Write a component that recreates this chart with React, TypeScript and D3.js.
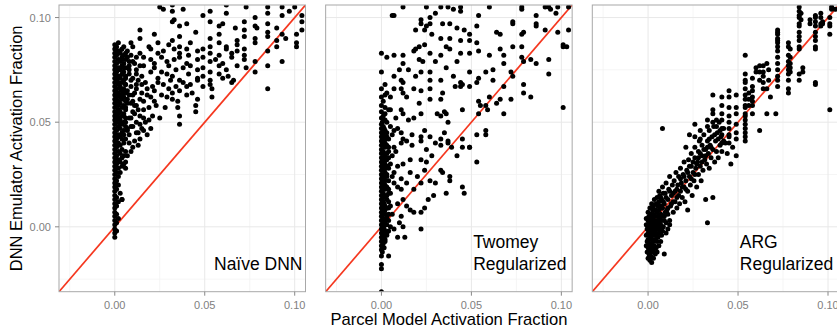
import React, { useEffect, useRef } from "react";
import * as d3 from "d3";

// all values in thousandths (0.05 -> 50)
const DOMAIN: [number, number] = [-31, 106];
const TICKS = [0, 50, 100];
const TICK_LABELS = ["0.00", "0.05", "0.10"];
const MINOR_TICKS = [-25, 25, 75];
const PANEL_LABELS = [["Naïve DNN"], ["Twomey", "Regularized"], ["ARG", "Regularized"]];
const X_TITLE = "Parcel Model Activation Fraction";
const Y_TITLE = "DNN Emulator Activation Fraction";

type Col = [number, number[]];
type Pt = [number, number];

// Naive DNN: column of points at x ~ 0
const naiveStripe: Col[] = [
  [0, [-5, -3, -1, 1, 3, 5, 7, 9, 11, 13, 15, 17, 19, 21, 23, 25, 27, 29, 31, 33, 35, 37, 39, 41, 43, 45, 47, 49, 51, 53, 55, 57, 59, 61, 63, 65, 67, 69, 71, 73, 75, 77, 79, 81, 83, 85, 87]],
  [1, [-2, 2, 6, 10, 14, 18, 22, 26, 30, 34, 38, 42, 46, 50, 54, 58, 62, 66, 70, 74, 78, 82, 86]],
  [2, [4, 12, 20, 24, 28, 32, 36, 40, 44, 48, 52, 56, 60, 64, 68, 72, 76, 80, 84, 88]],
  [3, [16, 26, 31, 35, 39, 43, 47, 51, 55, 59, 63, 67, 71, 75, 79, 83]],
  [4, [13, 29, 33, 37, 45, 49, 53, 57, 61, 65, 69, 73, 77, 81, 85]],
  [5, [30, 34, 40, 46, 50, 54, 58, 62, 66, 70, 74, 78, 82]],
  [6, [28, 36, 42, 48, 52, 56, 60, 64, 68, 72, 76, 80]],
];

const naiveCloud: Pt[] = [
  [25, 105], [27, 104], [32, 106], [32, 103], [38, 104], [62, 106], [73, 105], [85, 105], [93, 105], [100, 105],
  [33, 99], [49, 101], [53, 103], [62, 102], [78, 100], [85, 102], [93, 101], [97, 103], [104, 101],
  [32, 98], [36, 96], [40, 97], [53, 98], [58, 96], [60, 97], [67, 95], [72, 98], [78, 96], [85, 97], [90, 95], [104, 98],
  [14, 94], [45, 93], [72, 94], [79, 95], [85, 93], [104, 94], [101, 92],
  [22, 92], [14, 90], [32, 89], [36, 91], [53, 90], [58, 92], [68, 89], [72, 91], [78, 90], [85, 91], [90, 89], [93, 92], [95, 90], [101, 88],
  [9, 88], [19, 86], [24, 88], [30, 87], [36, 86], [40, 85], [42, 88], [53, 86], [58, 88], [62, 86], [68, 87], [72, 85], [78, 88], [90, 86], [101, 86],
  [3, 84], [14, 83], [20, 85], [24, 83], [27, 84], [33, 85], [36, 83], [41, 82], [46, 84], [49, 85], [53, 83], [58, 82], [62, 85], [65, 83], [68, 84], [72, 82], [85, 84],
  [4, 80], [7, 81], [10, 79], [16, 81], [20, 80], [22, 78], [26, 81], [29, 79], [33, 80], [36, 81], [40, 78], [46, 80], [49, 81], [53, 79], [56, 80], [60, 78], [65, 81], [72, 80], [78, 79], [93, 79],
  [5, 76], [8, 77], [12, 75], [16, 77], [22, 76], [26, 74], [30, 77], [34, 75], [38, 76], [42, 77], [46, 75], [49, 76], [53, 74], [58, 77], [62, 75], [68, 77], [73, 76], [78, 74], [85, 77],
  [3, 72], [8, 73], [10, 71], [15, 72], [20, 74], [24, 71], [29, 73], [32, 72], [36, 70], [41, 73], [46, 71], [49, 72], [53, 70], [58, 73], [60, 71], [63, 72], [66, 70],
  [2, 69], [6, 68], [9, 70], [12, 68], [17, 69], [21, 67], [24, 69], [27, 68], [31, 70], [34, 67], [38, 69], [42, 68], [46, 70], [49, 67], [53, 68], [65, 69],
  [3, 66], [7, 65], [12, 66], [15, 64], [18, 66], [22, 65], [26, 63], [30, 66], [32, 64], [36, 65], [40, 67], [43, 64], [54, 66], [85, 66],
  [3, 62], [7, 61], [10, 63], [14, 61], [20, 62], [22, 60], [29, 62], [32, 61], [35, 60], [40, 63], [46, 61], [54, 62],
  [2, 58], [6, 57], [9, 59], [12, 58], [16, 56], [23, 58], [28, 57], [35, 57], [45, 58],
  [2, 54], [5, 53], [9, 52], [11, 54], [14, 53], [19, 51], [21, 53], [25, 52], [36, 53], [45, 55],
  [3, 49], [7, 47], [10, 48], [14, 49], [20, 47], [36, 49],
  [18, 44], [10, 38], [14, 42], [12, 45], [8, 40], [16, 46], [11, 41], [13, 39], [9, 36], [7, 34], [6, 31], [8, 44], [15, 47],
  [6, 50], [8, 52], [10, 55], [12, 50], [7, 46], [9, 48], [13, 56], [5, 44], [11, 58], [4, 42], [4, 13],
  [7, 84], [8, 79], [9, 82], [5, 86], [6, 83], [10, 86], [8, 75], [11, 78], [12, 81], [6, 71], [9, 67], [11, 64], [7, 59],
  [13, 70], [10, 60], [5, 64], [12, 73], [14, 77], [8, 63], [16, 60], [18, 63], [15, 68], [19, 57], [17, 50], [13, 45], [16, 52],
];

// Twomey regularized
const twomeyStripe: Col[] = [
  [0, [-31, -20, -18, -14, -11, -9, -7, -5, -3, -1, 1, 3, 5, 7, 9, 11, 13, 15, 17, 19, 21, 23, 25, 27, 29, 31, 33, 35, 37, 39, 41, 43, 45, 47, 49, 52, 55, 58, 62, 66, 83]],
  [0.5, [-12, -9, -6, -3, 0, 3, 6, 9, 12, 15, 18, 21, 24, 27, 30, 33, 36, 39, 42, 45, 50]],
  [1, [-8, -4, 0, 4, 8, 12, 16, 20, 24, 28, 32, 36, 40, 44, 48, 53, 60]],
  [1.5, [-10, -5, -1, 3, 7, 11, 15, 19, 23, 27, 31, 35, 39, 43, 47]],
  [2, [-6, -2, 2, 6, 10, 14, 18, 22, 26, 30, 34, 38, 42, 46, 51, 57, 63]],
  [3, [-4, 1, 5, 9, 15, 19, 25, 29, 35, 39, 45]],
  [4, [-2, 6, 12, 16, 22, 28, 33, 38, 42]],
];

const twomeyCloud: Pt[] = [
  [12, 105], [25, 105], [33, 105], [37, 105], [44, 105], [60, 105], [78, 105], [91, 105], [93, 105], [98, 105], [104, 105],
  [40, 104], [44, 103], [30, 102], [27, 100], [6, 101], [7, 101], [54, 101], [78, 104], [86, 101], [94, 104], [97, 102],
  [22, 99], [22, 97], [27, 97], [19, 94], [25, 96], [24, 94], [34, 97], [38, 97], [42, 95], [46, 94], [53, 96], [64, 93], [66, 92],
  [73, 98], [73, 97], [79, 93], [86, 97], [86, 96], [91, 94], [98, 93], [104, 94],
  [28, 92], [24, 87], [19, 85], [21, 86], [38, 90], [44, 89], [49, 92], [49, 89], [33, 90], [53, 88], [73, 86], [78, 92], [101, 87], [103, 86], [101, 86],
  [3, 81], [7, 82], [12, 82], [12, 78], [18, 84], [21, 80], [23, 79], [27, 83], [30, 79], [33, 82], [36, 86], [38, 85], [42, 79], [44, 83], [49, 83],
  [54, 84], [60, 82], [66, 85], [68, 82], [68, 78], [78, 86], [78, 81], [79, 79], [83, 80], [86, 78], [93, 80],
  [0, 74], [2, 68], [7, 72], [10, 75], [11, 70], [12, 69], [15, 75], [19, 72], [22, 74], [27, 74], [27, 70], [33, 70], [36, 76], [40, 72], [44, 69],
  [45, 68], [49, 74], [53, 69], [54, 71], [58, 74], [62, 75], [62, 70], [68, 67], [72, 74], [73, 72], [79, 68], [93, 73],
  [3, 64], [5, 62], [7, 66], [11, 66], [12, 64], [14, 62], [18, 66], [22, 65], [27, 66], [27, 61], [33, 61], [34, 64], [41, 67], [44, 67],
  [49, 67], [54, 60], [55, 58], [60, 62], [64, 59], [66, 61], [72, 61], [79, 64], [83, 62],
  [5, 56], [11, 56], [12, 54], [15, 51], [18, 52], [21, 59], [22, 54], [31, 54], [33, 53], [35, 55], [36, 54], [37, 50], [45, 56], [54, 54], [58, 58], [59, 56], [68, 54], [101, 57],
  [1, 46], [3, 43], [7, 46], [11, 45], [12, 42], [17, 44], [22, 43], [24, 46], [27, 43], [30, 40], [33, 42], [35, 45], [37, 40], [45, 42], [49, 38], [53, 44], [58, 46], [58, 44],
  [7, 38], [11, 40], [14, 41], [17, 39], [22, 41], [25, 37], [28, 34], [33, 39], [37, 41], [39, 38], [42, 34], [45, 38], [49, 38], [53, 31],
  [33, 27], [34, 26], [38, 24], [38, 22], [30, 21], [45, 19], [46, 16], [36, 16], [29, 15], [26, 13], [24, 9], [22, 7], [18, 7], [16, 8], [14, 10],
  [11, 5], [10, 2], [12, 0], [13, -5], [9, -5], [4, -14], [22, -1], [7, -1], [4, 3], [6, 6], [5, 10], [9, 11], [12, 13], [18, 18], [14, 21],
  [11, 23], [20, 24], [24, 27], [25, 31], [22, 32], [16, 32], [12, 30], [9, 29], [7, 26], [11, 18], [22, 21], [27, 22], [16, 26], [7, 21], [5, 16], [9, 19],
  [3, 50], [5, 48], [8, 52], [2, 54], [4, 56], [6, 44], [9, 47], [2, 40], [4, 36], [3, 32], [6, 34], [8, 36], [2, 28], [5, 30], [3, 24], [6, 24],
  [2, 20], [4, 18], [3, 13], [2, 8], [4, 9], [3, 4], [2, 1], [5, 0], [3, -3], [2, -7],
];

// ARG regularized: dense core near the origin
const argCore: Pt[] = [
  [-1, -9], [-1, -4], [-1, 1], [-1, 4], [-0.5, -12], [-0.5, -7], [-0.5, -1], [0, -15], [0, -10], [0, -6], [0, -3], [0, 0], [0, 3], [0, 7],
  [0.5, -13], [0.5, -8], [0.5, -4], [0.5, -1], [0.5, 2], [0.5, 5], [1, -16], [1, -11], [1, -6], [1, -2], [1, 1], [1, 4], [1, 9],
  [1.5, -14], [1.5, -9], [1.5, -5], [1.5, 0], [1.5, 3], [1.5, 6], [2, -17], [2, -12], [2, -8], [2, -3], [2, 2], [2, 5], [2, 11],
  [2.5, -10], [2.5, -6], [2.5, -1], [2.5, 4], [2.5, 8], [3, -15], [3, -11], [3, -7], [3, -3], [3, 1], [3, 6], [3, 10],
  [3.5, -9], [3.5, -4], [3.5, 0], [3.5, 3], [3.5, 13], [4, -13], [4, -6], [4, -2], [4, 2], [4, 5], [4, 8],
  [4.5, -10], [4.5, -4], [4.5, 1], [4.5, 11], [5, -12], [5, -7], [5, -1], [5, 3], [5, 7], [5, 14],
  [5.5, -5], [5.5, 0], [5.5, 5], [5.5, 10], [6, -9], [6, -3], [6, 2], [6, 8], [6, 12], [6.5, -1], [6.5, 4], [6.5, 15],
  [7, -7], [7, 1], [7, 6], [7, 10], [7.5, -4], [7.5, 3], [7.5, 13], [8, -2], [8, 5], [8, 9], [8.5, 0], [8.5, 16],
  [9, -13], [9, 3], [9, 11], [9.5, 7], [10, -3], [10, 2], [11, -1], [11, 6], [12, 1],
];

// ARG: rising band
const argBand: Pt[] = [
  [6, 17], [7, 14], [7.5, 9], [8, 19], [8.5, 12], [9, 5], [9.5, 16], [10, 21], [10.5, 8], [11, 13], [11.5, 18], [12, 3], [12, 24],
  [12.5, 10], [13, 15], [13.5, 20], [14, 7], [14, 12], [14.5, 22], [15, 17], [15.5, 26], [16, 9], [16, 14], [16.5, 20], [17, 24],
  [17.5, 11], [18, 17], [18, 28], [18.5, 21], [19, 14], [19.5, 25], [20, 19], [20, 31], [20.5, 12], [21, 22], [21.5, 27], [22, 8],
  [22, 17], [22.5, 32], [23, 24], [23.5, 20], [24, 29], [24, 35], [24.5, 15], [25, 26], [25.5, 22], [26, 33], [26, 38], [26.5, 28],
  [27, 19], [27.5, 31], [28, 25], [28, 36], [28.5, 41], [29, 29], [29.5, 22], [30, 34], [30, 39], [30.5, 27], [31, 44], [31.5, 32],
  [32, 13], [32, 37], [32.5, 30], [33, 2], [33, 41], [33.5, 35], [34, 46], [34, 28], [34.5, 39], [35, 33], [35.5, 43], [36, 14],
  [36, 37], [36.5, 48], [37, 31], [37.5, 41], [38, 36], [38.5, 45], [39, 33], [39.5, 50], [40, 39], [40.5, 43], [41, 36], [42, 47],
  [43, 40], [44, 35], [45, 44], [46, 30], [47, 38], [8, 47], [21, 38], [23, 44], [26, 43], [26, 49], [29, 42], [29, 46],
  [33, 48], [33, 51], [36, 50], [36, 54], [36, 56], [36, 63], [38, 48], [38, 51],
  [10, 14], [11, 9], [12, 17], [13, 11], [14, 16], [15, 12], [16, 18], [17, 15], [18, 23], [19, 19], [20, 24], [21, 18],
  [22, 26], [23, 29], [24, 23], [25, 31], [26, 25], [27, 30], [28, 33], [29, 35], [30, 31], [31, 37], [32, 34], [33, 38],
  [34, 42], [35, 38], [37, 44], [39, 42], [40, 46], [42, 41],
];

// ARG: vertical groups at larger activation fractions
const argCols: Col[] = [
  [41, [40, 44, 47, 51, 54, 58, 62]],
  [45, [40, 43, 47, 50, 53, 57, 62, 65]],
  [49, [34, 42, 45, 49, 54, 57, 63]],
  [54, [41, 43, 45, 47, 49, 51, 53, 54, 57, 58, 61, 63, 66, 69, 70, 73, 82]],
  [56, [58, 61, 64]],
  [58, [54, 58, 60, 62, 65, 67, 71]],
  [60, [74, 76]],
  [62, [46, 70, 74, 77]],
  [64, [66, 69, 72, 74, 77]],
  [66, [54, 66, 78]],
  [67, [70, 75]],
  [68, [62]],
  [71, [54]],
  [72, [67, 70, 72, 75, 78, 81, 84, 86, 88, 89, 90, 92, 93, 94]],
  [78, [64, 66, 70, 73, 75, 77, 79, 82, 86, 88]],
  [79, [74, 76, 78, 81, 85]],
  [84, [70, 73, 85, 86, 89, 91, 93, 96, 97, 100, 101, 103, 105]],
  [85, [99, 102]],
  [86, [74, 76]],
  [90, [97, 99]],
  [93, [68, 69, 85, 86, 89, 91, 93, 96, 98, 100, 101]],
  [96, [96, 97, 100, 102]],
  [97, [97, 98]],
  [101, [56, 92, 96, 97, 100]],
  [102, [104, 105]],
  [104, [104]],
];

const flatten = (cols: Col[]): Pt[] => cols.flatMap(([x, ys]) => ys.map((y) => [x, y] as Pt));

const PANELS: Pt[][] = [
  [...flatten(naiveStripe), ...naiveCloud],
  [...flatten(twomeyStripe), ...twomeyCloud],
  [...argCore, ...argBand, ...flatten(argCols)],
];

const W = 837;
const H = 331;

const App = () => {
  const ref = useRef<SVGSVGElement>(null);

  useEffect(() => {
    const svg = d3.select(ref.current);
    svg.selectAll("*").remove();

    const font = "'Liberation Sans', Arial, sans-serif";
    const top = 5;
    const bottom = 291.7;
    const pw = 246.5;
    const step = 266.65;
    const firstLeft = 59;

    const y = d3.scaleLinear().domain(DOMAIN).range([bottom, top]);

    PANELS.forEach((points, i) => {
      const left = firstLeft + i * step;
      const x = d3.scaleLinear().domain(DOMAIN).range([left, left + pw]);
      const g = svg.append("g");

      g.append("rect")
        .attr("x", left).attr("y", top)
        .attr("width", pw).attr("height", bottom - top)
        .attr("fill", "#fff");

      // grid
      MINOR_TICKS.forEach((t) => {
        g.append("line").attr("x1", x(t)).attr("x2", x(t)).attr("y1", top).attr("y2", bottom)
          .attr("stroke", "#f2f2f2").attr("stroke-width", 0.8);
        g.append("line").attr("x1", left).attr("x2", left + pw).attr("y1", y(t)).attr("y2", y(t))
          .attr("stroke", "#f2f2f2").attr("stroke-width", 0.8);
      });
      TICKS.forEach((t) => {
        g.append("line").attr("x1", x(t)).attr("x2", x(t)).attr("y1", top).attr("y2", bottom)
          .attr("stroke", "#e8e8e8").attr("stroke-width", 1);
        g.append("line").attr("x1", left).attr("x2", left + pw).attr("y1", y(t)).attr("y2", y(t))
          .attr("stroke", "#e8e8e8").attr("stroke-width", 1);
      });

      const clipId = `clip-${i}`;
      svg.append("defs").append("clipPath").attr("id", clipId)
        .append("rect").attr("x", left).attr("y", top).attr("width", pw).attr("height", bottom - top);

      const inner = g.append("g").attr("clip-path", `url(#${clipId})`);

      const line = d3.line<number>().x((d) => x(d)).y((d) => y(d));
      inner.append("path")
        .attr("d", line(DOMAIN))
        .attr("fill", "none")
        .attr("stroke", "#f5371f")
        .attr("stroke-width", 1.7);

      inner.selectAll("circle")
        .data(points)
        .enter()
        .append("circle")
        .attr("cx", (d) => x(d[0]))
        .attr("cy", (d) => y(d[1]))
        .attr("r", 2.5)
        .attr("fill", "#000");

      g.append("rect")
        .attr("x", left).attr("y", top)
        .attr("width", pw).attr("height", bottom - top)
        .attr("fill", "none").attr("stroke", "#a8a8a8").attr("stroke-width", 1);

      // x axis
      TICKS.forEach((t, k) => {
        g.append("line").attr("x1", x(t)).attr("x2", x(t)).attr("y1", bottom).attr("y2", bottom + 4)
          .attr("stroke", "#888");
        g.append("text").attr("x", x(t)).attr("y", bottom + 17.5)
          .attr("text-anchor", "middle").attr("font-family", font).attr("font-size", 11)
          .attr("fill", "#808080").text(TICK_LABELS[k]);
      });

      if (i === 0) {
        TICKS.forEach((t, k) => {
          g.append("line").attr("x1", left - 4).attr("x2", left).attr("y1", y(t)).attr("y2", y(t))
            .attr("stroke", "#888");
          g.append("text").attr("x", left - 8).attr("y", y(t) + 4)
            .attr("text-anchor", "end").attr("font-family", font).attr("font-size", 11)
            .attr("fill", "#808080").text(TICK_LABELS[k]);
        });
      }

      // panel label
      const lines = PANEL_LABELS[i];
      const label = g.append("text")
        .attr("font-family", font).attr("font-size", 17.5).attr("fill", "#000");
      if (lines.length === 1) {
        label.attr("x", left + pw - 3).attr("y", 270).attr("text-anchor", "end").text(lines[0]);
      } else {
        lines.forEach((l, k) => {
          label.append("tspan").attr("x", left + 147.5).attr("y", 248 + k * 22).text(l);
        });
      }
    });

    svg.append("text")
      .attr("x", firstLeft + step + pw / 2).attr("y", 325)
      .attr("text-anchor", "middle").attr("font-family", font).attr("font-size", 16.6)
      .attr("fill", "#000").text(X_TITLE);

    svg.append("text")
      .attr("transform", `translate(22, ${(top + bottom) / 2}) rotate(-90)`)
      .attr("text-anchor", "middle").attr("font-family", font).attr("font-size", 16.5)
      .attr("fill", "#000").text(Y_TITLE);
  }, []);

  return (
    <svg
      ref={ref}
      width={W}
      height={H}
      style={{ position: "absolute", left: 0, top: 0, background: "#fff" }}
    />
  );
};

export default App;
